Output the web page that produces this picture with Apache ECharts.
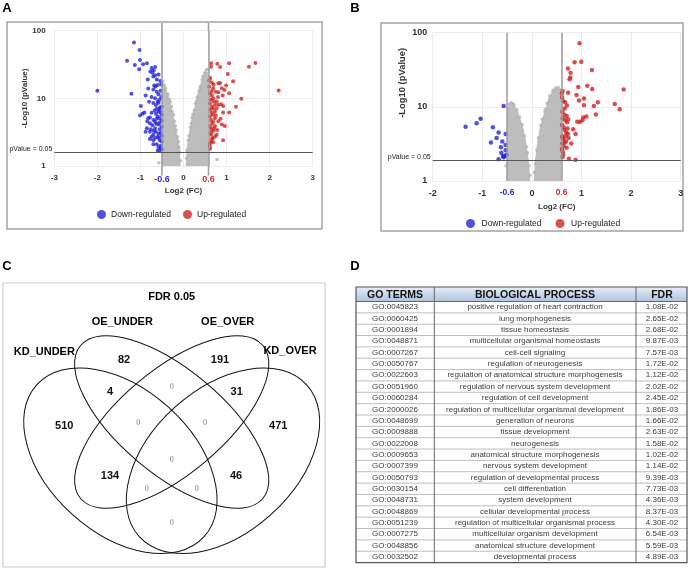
<!DOCTYPE html>
<html><head><meta charset="utf-8">
<script src="https://cdn.jsdelivr.net/npm/echarts@6/dist/echarts.min.js"></script>
<style>html,body{margin:0;padding:0;background:#fff}#c{width:699px;height:569px}</style>
</head><body><div id="c"></div>
<script>
// ---------- DATA ----------
// Panel A (volcano) – gray non-significant cloud outlines [log2FC, -log10 p]
const aGrayLeft = [[-0.5,17.5],[-0.47,16.7],[-0.39,12.5],[-0.31,8.5],[-0.24,5.4],[-0.16,3.0],[-0.10,1.93],[-0.08,1]];
const aGrayRight = [[0.06,1],[0.09,1.93],[0.135,3],[0.19,4.8],[0.27,7.5],[0.34,11.9],[0.41,16.7],[0.46,22],[0.52,24.8],[0.56,25.6],[0.58,24]];
const aGrayPoints = [[-0.45,15.8],[-0.42,14.2],[-0.36,11.5],[-0.33,9.6],[-0.28,7.6],[-0.26,6.4],[-0.21,4.6],[-0.19,3.9],[-0.14,2.7],[-0.12,2.3],[-0.09,1.6],[-0.07,1.2],[-0.48,17.9],[-0.57,1.12],[-0.44,13.0],[-0.38,10.3],[-0.30,8.8],[-0.23,5.7],[-0.17,3.4],[-0.11,1.9],
  [0.07,1.3],[0.08,1.7],[0.11,2.4],[0.13,2.8],[0.16,3.7],[0.18,4.3],[0.22,5.8],[0.25,6.6],[0.30,9],[0.32,10.4],[0.36,12.8],[0.39,15],[0.43,18.8],[0.45,21],[0.49,23.8],[0.53,26.5],[0.57,27],[0.78,1.25],[0.40,14],[0.20,5.2],[0.28,8.4]];
const aDown = [[-1.15,67],[-1.02,52],[-1.31,36],[-1.01,37],[-1.13,31],[-0.94,32],[-0.85,33],[-1.03,27],[-0.74,28],[-0.66,29],[-0.77,25],[-0.72,24],[-0.69,26],[-0.83,19],[-0.62,19],[-2.0,13],[-1.21,11.7],[-0.82,14],[-0.65,15],[-0.6,15.7],[-0.88,11],[-0.8,8.9],[-0.99,7.7],[-0.91,6.2],[-1.01,5.6],[-0.88,3.2],[-0.7,2.1],[-0.55,1.66],
  [-0.66,22],[-0.58,22.5],[-0.7,21],[-0.68,15.5],[-0.52,16],[-0.58,11.5],[-0.7,8.5],[-0.64,8],[-0.58,8.6],[-0.55,7.3],[-0.62,7],[-0.56,6.8],[-0.51,7.5],[-0.95,5.9],[-0.74,6.1],[-0.64,5.9],[-0.58,6.4],[-0.51,5.7],[-0.82,5.1],[-0.78,5.2],[-0.7,4.8],[-0.62,5],[-0.55,5.1],[-0.51,4.7],[-0.84,4.6],[-0.78,4.3],[-0.72,4],[-0.66,4.5],[-0.58,4.1],[-0.51,3.8],[-0.85,3.6],[-0.76,3.5],[-0.66,3.6],[-0.55,3.5],[-0.78,3.2],[-0.7,2.9],[-0.64,3.2],[-0.58,3],[-0.51,2.8],[-0.74,2.7],[-0.6,2.7],[-0.78,2.5],[-0.7,2.4],[-0.55,2.4],[-0.51,2.3],[-0.62,2.1],[-0.53,2],[-0.58,1.9],[-0.51,1.75],[-0.6,1.7],[-0.52,1.85],[-0.74,10.5],[-0.66,10],[-0.56,9.5],[-0.62,12.5],[-0.7,13.5],[-0.53,13],[-0.54,18],[-0.6,9],[-0.52,10.5],[-0.67,6.6],[-0.6,5.4],[-0.53,6.2],[-0.63,4.2],[-0.55,4.4],[-0.69,3.3],[-0.53,3.1],[-0.66,2.6],[-0.57,2.6]];
const aUp = [[0.64,33],[0.785,32.6],[1.06,33],[1.67,33.3],[0.64,29.4],[0.85,29],[1.52,29.4],[1.03,22.9],[0.6,18.5],[1.15,17.9],[0.81,16.7],[0.85,16.9],[2.21,13.1],[0.6,14.9],[0.69,14.1],[0.89,14.1],[0.95,13.3],[0.81,12.3],[1.06,11.9],[0.615,11.9],[0.655,11],[0.91,11],[0.69,10],[1.34,9.9],[0.77,8.9],[0.615,8.4],[0.73,8.0],[0.81,8.0],[0.87,8.2],[0.92,7.7],[1.22,7.5],[0.69,7.1],[0.77,7.1],[0.655,6.1],[0.73,6.35],[0.92,6.2],[1.06,6.2],[0.68,5.7],[0.615,5.4],[0.73,5.1],[0.64,4.8],[0.69,4.5],[0.81,4.6],[0.89,4.1],[0.96,3.9],[0.73,3.9],[0.655,3.5],[0.69,3.3],[0.77,2.9],[0.64,2.9],[0.73,2.7],[0.68,2.6],[0.92,2.4],[0.64,2.3],[0.615,2.16],[0.69,2.24],
  [0.62,20],[0.66,17],[0.7,16],[0.75,12.5],[0.63,9.5],[0.66,7.5],[0.7,9],[0.62,6.8],[0.75,5.6],[0.66,4.2],[0.62,3.8],[0.71,3.6],[0.63,3.1],[0.78,3.4],[0.66,2.5],[0.61,2.0],[0.62,1.8],[0.86,5.0],[0.8,10.5],[0.99,15.5],[0.66,12.8]];
// Panel B (volcano)
const bGrayLeft = [[-0.5,8.5],[-0.46,10.2],[-0.4,11.2],[-0.34,10],[-0.28,8.2],[-0.23,6.6],[-0.175,4.9],[-0.12,3.2],[-0.074,1.92],[-0.04,1]];
const bGrayRight = [[0.047,1],[0.074,1.92],[0.114,3.2],[0.16,4.9],[0.23,7.4],[0.296,10],[0.343,13.1],[0.397,15.2],[0.464,17.2],[0.51,17.7],[0.57,16.5],[0.6,15]];
const bGrayPoints = [[-0.04,1.2],[-0.06,1.6],[-0.09,2.4],[-0.11,2.9],[-0.15,4.0],[-0.2,5.8],[-0.25,7.3],[-0.3,9.1],[-0.36,10.6],[-0.42,11.4],[-0.38,11.0],[-0.48,9.6],[-0.52,1.6],[-0.45,10.8],
  [0.05,1.3],[0.07,1.7],[0.1,2.6],[0.13,3.8],[0.18,5.6],[0.21,6.8],[0.26,8.6],[0.31,11.2],[0.36,14],[0.42,16.3],[0.48,17.9],[0.53,18.3],[0.57,17.2],[0.44,16.9],[0.27,9.3]];
const bDown = [[-0.57,10.3],[-1.034,6.9],[-1.115,6.0],[-1.337,5.4],[-0.786,5.3],[-0.671,4.5],[-0.53,4.3],[-0.826,3.3],[-0.712,3.8],[-0.597,3.4],[-0.625,2.85],[-0.53,3.06],[-0.53,2.6],[-0.617,2.4],[-0.585,2.17],[-0.544,2.17],[-0.516,2.24],[-0.671,1.96],[-0.57,2.09]];
const bUp = [[0.96,71.9],[0.86,39.8],[0.995,40.7],[0.726,33],[0.78,28.9],[1.21,31.4],[0.773,24.8],[0.76,23.5],[0.935,18.5],[1.117,19.3],[1.217,17.4],[1.85,17.1],[0.62,16.4],[0.605,15.2],[0.73,15.5],[0.9,14.4],[1.05,13.0],[0.948,12.2],[1.33,11.5],[0.67,11.5],[0.705,10.4],[1.05,10.5],[1.25,10.3],[1.67,10.9],[1.77,9.25],[0.615,8.6],[0.655,7.85],[0.7,7.5],[1.096,7.4],[1.036,7.2],[1.29,7.9],[1.02,6.6],[0.915,6.3],[0.97,6.3],[0.71,6.2],[0.61,5.7],[0.833,5.0],[0.655,4.9],[0.69,4.5],[0.726,4.3],[0.88,4.3],[0.615,4.0],[0.64,3.6],[0.793,3.2],[0.69,3.4],[0.615,3.2],[0.64,2.95],[0.605,2.7],[0.62,2.5],[0.746,2.0],[0.88,1.94],
  [0.61,13.5],[0.63,12.0],[0.66,9.5],[0.62,7.0],[0.67,6.6],[0.64,5.3],[0.72,5.1],[0.68,4.0],[0.74,3.8],[0.62,3.8],[0.66,3.3],[0.7,2.8],[0.63,2.3],[0.62,2.1],[0.73,6.8]];
// thresholds
const aThresholdX = [-0.5, 0.58];
const aThresholdY = 1.59;
const bThresholdX = [-0.5, 0.6];
const bThresholdY = 1.9;
const thresholdXLabels = ['-0.6', '0.6'];
const thresholdYLabel = 'pValue = 0.05';
const legendNames = ['Down-regulated', 'Up-regulated'];
// Panel C (Venn)
const vennTitle = 'FDR 0.05';
const vennSets = ['KD_UNDER', 'OE_UNDER', 'OE_OVER', 'KD_OVER'];
const vennCounts = [82, 191, 4, 0, 31, 510, 0, 0, 471, 0, 134, 46, 0, 0, 0];
// Panel D (table)
const tableHeaders = ['GO TERMS', 'BIOLOGICAL PROCESS', 'FDR'];
const goTerms = ['GO:0045823','GO:0060425','GO:0001894','GO:0048871','GO:0007267','GO:0050767','GO:0022603','GO:0051960','GO:0060284','GO:2000026','GO:0048699','GO:0009888','GO:0022008','GO:0009653','GO:0007399','GO:0050793','GO:0030154','GO:0048731','GO:0048869','GO:0051239','GO:0007275','GO:0048856','GO:0032502'];
const processes = ['positive regulation of heart contraction','lung morphogenesis','tissue homeostasis','multicellular organismal homeostasis','cell-cell signaling','regulation of neurogenesis','regulation of anatomical structure morphogenesis','regulation of nervous system development','regulation of cell development','regulation of multicellular organismal development','generation of neurons','tissue development','neurogenesis','anatomical structure morphogenesis','nervous system development','regulation of developmental process','cell differentiation','system development','cellular developmental process','regulation of multicellular organismal process','multicellular organism development','anatomical structure development','developmental process'];
const fdrValues = ['1.08E-02','2.65E-02','2.68E-02','9.87E-03','7.57E-03','1.72E-02','1.12E-02','2.02E-02','2.45E-02','1.86E-03','1.66E-02','2.63E-02','1.58E-02','1.02E-02','1.14E-02','9.39E-03','7.73E-03','4.36E-03','8.37E-03','4.30E-02','6.54E-03','5.59E-03','4.89E-03'];

// ---------- STYLE / LAYOUT ----------
const FF = 'Liberation Sans, Arial, sans-serif';
const BLUE = '#2424dc', RED = '#d02424', GRAY = '#bdbdbd';
const chart = echarts.init(document.getElementById('c'), null, {renderer: 'canvas'});

function xAxisCfg(gi, min, max, fs, nameGap, nameFs) {
  return {gridIndex: gi, type: 'value', min: min, max: max, interval: 1,
    axisLine: {show: false}, axisTick: {show: false},
    splitLine: {show: true, lineStyle: {color: '#ececec', width: 1}},
    axisLabel: {fontFamily: FF, fontSize: fs, fontWeight: 'bold', color: '#333', margin: 8},
    name: 'Log2 (FC)', nameLocation: 'middle', nameGap: nameGap,
    nameTextStyle: {fontFamily: FF, fontSize: nameFs, color: '#333', fontWeight: 'bold'}};
}
function yAxisCfg(gi, fs, margin, nameGap, nameFs, shift) {
  return {gridIndex: gi, type: 'log', logBase: 10, min: 1, max: 100,
    axisLine: {show: false}, axisTick: {show: false},
    splitLine: {show: true, lineStyle: {color: '#ececec', width: 1}},
    minorSplitLine: {show: false},
    axisLabel: {fontFamily: FF, fontSize: fs, fontWeight: 'bold', color: '#333', margin: margin},
    name: '-Log10 (pValue)', nameLocation: 'middle', nameGap: nameGap, nameRotate: 90,
    nameTextStyle: {fontFamily: FF, fontSize: nameFs, color: '#333', fontWeight: 'bold', padding: [0, 0, 0, shift]}};
}
function thresholdLines(tx, ty, lblDist, lblFs, hLblFs) {
  return {symbol: 'none', silent: true, animation: false,
    data: [
      {xAxis: tx[0], lineStyle: {color: '#9a9a9a', width: 1.5, type: 'solid'},
        label: {show: true, position: 'start', distance: lblDist, formatter: thresholdXLabels[0], color: '#3030c8', fontFamily: FF, fontSize: lblFs, fontWeight: 'bold'}},
      {xAxis: tx[1], lineStyle: {color: '#9a9a9a', width: 1.5, type: 'solid'},
        label: {show: true, position: 'start', distance: lblDist, formatter: thresholdXLabels[1], color: '#c83030', fontFamily: FF, fontSize: lblFs, fontWeight: 'bold'}},
      {yAxis: ty, lineStyle: {color: '#555', width: 1, type: 'solid'},
        label: {show: true, position: 'start', distance: 2, formatter: thresholdYLabel, color: '#222', fontFamily: FF, fontSize: hLblFs, verticalAlign: 'bottom'}}
    ]};
}
function volcanoSeries(gi, grayL, grayR, grayPts, down, up, tx, ty, lblDist, lblFs, hLblFs, sz) {
  return [
    {type: 'line', xAxisIndex: gi, yAxisIndex: gi, data: grayL, showSymbol: false, smooth: false,
      lineStyle: {width: 1, color: GRAY}, areaStyle: {color: GRAY, opacity: 1, origin: 'start'}, silent: true, z: 1},
    {type: 'line', xAxisIndex: gi, yAxisIndex: gi, data: grayR, showSymbol: false, smooth: false,
      lineStyle: {width: 1, color: GRAY}, areaStyle: {color: GRAY, opacity: 1, origin: 'start'}, silent: true, z: 1},
    {type: 'scatter', xAxisIndex: gi, yAxisIndex: gi, data: grayPts, symbolSize: 3.5, itemStyle: {color: '#b3b3b3'}, silent: true, z: 2,
      markLine: thresholdLines(tx, ty, lblDist, lblFs, hLblFs)},
    {type: 'scatter', name: legendNames[0], xAxisIndex: gi, yAxisIndex: gi, data: down, symbolSize: sz, itemStyle: {color: BLUE}, z: 3},
    {type: 'scatter', name: legendNames[1], xAxisIndex: gi, yAxisIndex: gi, data: up, symbolSize: sz, itemStyle: {color: RED}, z: 3}
  ];
}

const ellipseIcon = 'path://M0,50 A50,50 0 1,1 100,50 A50,50 0 1,1 0,50 Z';
const option = {
  animation: false,
  backgroundColor: '#fff',
  textStyle: {fontFamily: FF},
  grid: [
    {left: 54.3, top: 30.7, width: 258.4, height: 135.3},
    {left: 432.7, top: 32.7, width: 248, height: 148.3}
  ],
  xAxis: [xAxisCfg(0, -3, 3, 8, 21, 8), xAxisCfg(1, -2, 3, 9, 22, 8)],
  yAxis: [yAxisCfg(0, 8, 8.6, 17, 8, 0), yAxisCfg(1, 9, 5.4, 26, 9.4, 48)],
  legend: [
    {data: legendNames, left: 92, top: 205, itemWidth: 9, itemHeight: 9, itemGap: 12, icon: ellipseIcon,
      textStyle: {fontFamily: FF, fontSize: 8.5, color: '#222'}},
    {data: legendNames, left: 461, top: 214, itemWidth: 12, itemHeight: 9, itemGap: 14, icon: ellipseIcon,
      textStyle: {fontFamily: FF, fontSize: 8.5, color: '#222'}}
  ],
  series: [].concat(
    volcanoSeries(0, aGrayLeft, aGrayRight, aGrayPoints, aDown, aUp, aThresholdX, aThresholdY, 9, 9, 7, 4),
    volcanoSeries(1, bGrayLeft, bGrayRight, bGrayPoints, bDown, bUp, bThresholdX, bThresholdY, 7, 8.5, 7, 4.5)
  )
};
chart.setOption(option);

// ---------- GRAPHICS (boxes, Venn, table) ----------
const g = [];
function txt(s, x, y, font, fill, align, valign) {
  g.push({type: 'text', silent: true, z: 10, style: {text: s, x: x, y: y, font: font, fill: fill || '#000', align: align || 'center', verticalAlign: valign || 'middle'}});
}
function box(x1, y1, x2, y2, stroke, lw) {
  g.push({type: 'rect', silent: true, shape: {x: x1, y: y1, width: x2 - x1, height: y2 - y1}, style: {fill: 'none', stroke: stroke, lineWidth: lw}});
}
function seg(x1, y1, x2, y2, stroke, lw) {
  g.push({type: 'line', silent: true, shape: {x1: x1, y1: y1, x2: x2, y2: y2}, style: {stroke: stroke, lineWidth: lw}});
}
// panel frames
box(7, 22, 322, 229, '#a4a4a4', 1.5);
box(381, 23, 683, 231, '#a4a4a4', 1.5);
box(3, 283, 325, 567, '#c6cbe0', 1.2);
// extensions of panel A threshold lines beyond the plot (x from the axis scale)
aThresholdX.forEach(function (v) {
  const px = chart.convertToPixel({xAxisIndex: 0}, v);
  seg(px, 23, px, 30.7, '#9a9a9a', 1.5);
  seg(px, 166, px, 175.5, '#9a9a9a', 1.5);
});
// panel letters
txt('A', 7, 8, 'bold 13px ' + FF, '#000');
txt('B', 355, 8, 'bold 13px ' + FF, '#000');
txt('C', 7, 266, 'bold 13px ' + FF, '#000');
txt('D', 355, 266, 'bold 13px ' + FF, '#000');

// Venn ellipses (layout)
const vennEllipses = [
  {cx: 120.4, cy: 460.8, rx: 113, ry: 72, rot: -42.2},
  {cx: 171.7, cy: 422, rx: 119, ry: 52, rot: -40},
  {cx: 171.7, cy: 422, rx: 119, ry: 52, rot: 40},
  {cx: 223, cy: 460.8, rx: 113, ry: 72, rot: 42.2}
];
vennEllipses.forEach(function (e) {
  g.push({type: 'ellipse', silent: true, x: e.cx, y: e.cy, rotation: e.rot * Math.PI / 180,
    shape: {cx: 0, cy: 0, rx: e.rx, ry: e.ry}, style: {fill: 'none', stroke: '#111', lineWidth: 1}});
});
txt(vennTitle, 171.7, 297, 'bold 11px ' + FF);
const vennSetPos = [[44.3, 352], [122.3, 322], [227.7, 322], [290, 351]];
vennSets.forEach(function (s, i) { txt(s, vennSetPos[i][0], vennSetPos[i][1], 'bold 11px ' + FF); });
const vennRegionPos = [[124, 360], [220, 360], [110, 392], [171.7, 387.3], [236.7, 392], [64.3, 426], [138.3, 423.3], [205, 423.3], [278.3, 426], [171.7, 460], [110, 476], [236, 476], [146.7, 489.3], [196.7, 489.3], [171.7, 522.7]];
vennCounts.forEach(function (c, i) {
  if (c === 0) txt(String(c), vennRegionPos[i][0], vennRegionPos[i][1], '8px Liberation Serif, serif', '#7a7a7a');
  else txt(String(c), vennRegionPos[i][0], vennRegionPos[i][1], 'bold 11px ' + FF, '#111');
});

// Table
const tL = 356, tR = 687, tTop = 287, hBot = 301.5, rowH = 11.35;
const colX = [tL, 434.3, 636, tR];
const tBot = hBot + rowH * goTerms.length;
g.push({type: 'rect', silent: true, shape: {x: tL, y: tTop, width: tR - tL, height: hBot - tTop},
  style: {fill: new echarts.graphic.LinearGradient(0, 0, 0, 1, [{offset: 0, color: '#e6edf7'}, {offset: 1, color: '#afc3e0'}]), stroke: 'none'}});
for (let i = 1; i < goTerms.length; i++) seg(tL, hBot + rowH * i, tR, hBot + rowH * i, '#bdbdbd', 1);
seg(tL, hBot, tR, hBot, '#666', 1);
[1, 2].forEach(function (k) { seg(colX[k], tTop, colX[k], tBot, '#666', 1); });
box(tL, tTop, tR, tBot, '#555', 1.2);
const colC = [395, 535, 662];
tableHeaders.forEach(function (h, k) { txt(h, colC[k], (tTop + hBot) / 2 + 0.5, 'bold 10.5px ' + FF, '#111'); });
goTerms.forEach(function (t, i) {
  const y = hBot + rowH * (i + 0.5);
  txt(t, colC[0], y, '8px ' + FF, '#3a3a3a');
  txt(processes[i], colC[1], y, '8px ' + FF, '#3a3a3a');
  txt(fdrValues[i], colC[2], y, '8px ' + FF, '#3a3a3a');
});

chart.setOption({graphic: g});
</script></body></html>
